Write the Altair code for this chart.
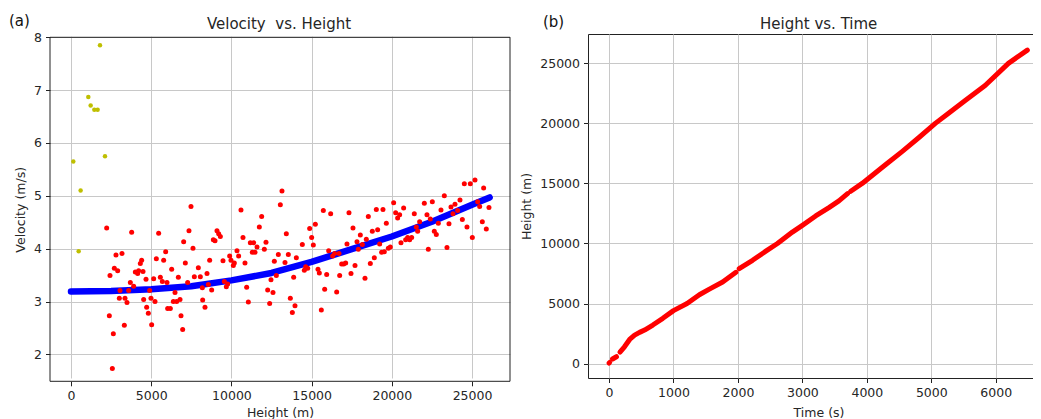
import altair as alt
import pandas as pd

FONT = "DejaVu Sans"
TXT = "#262626"
FRAME = "#222"

# ---------------- Panel (a): Velocity vs. Height ----------------
yellow_h = [145, 478, 600, 1080, 1226, 1455, 1660, 1808, 2120]
yellow_v = [5.65, 3.95, 5.10, 6.87, 6.71, 6.63, 6.63, 7.85, 5.75]

blue_h = [0, 2500, 5000, 7500, 10000, 12500, 15000, 17500, 20000, 22500, 25000, 26100]
blue_v = [3.19, 3.20, 3.23, 3.29, 3.40, 3.54, 3.75, 3.99, 4.23, 4.51, 4.83, 4.97]

red_pts = [
    (2224, 4.39), (2431, 3.49), (2390, 2.73), (2639, 2.39), (2577, 1.73), (2701, 3.63),
    (2805, 3.88), (2909, 3.58), (3055, 3.21), (3013, 3.06), (3179, 3.91), (3325, 2.55),
    (3366, 3.06), (3491, 2.98), (3595, 3.21), (3699, 3.36), (3782, 4.31), (3907, 3.29),
    (4011, 3.56), (4156, 3.53), (4218, 3.58), (4322, 3.72), (4405, 3.78), (4489, 3.57),
    (4530, 3.04), (4676, 3.42), (4717, 2.89), (4821, 2.78), (4904, 3.21), (4987, 3.06),
    (5029, 2.56), (5154, 3.43), (5237, 3.00), (5320, 3.81), (5465, 4.29), (5569, 3.46),
    (5694, 3.38), (5777, 3.78), (5902, 3.94), (5985, 3.36), (6026, 2.87), (6193, 2.87),
    (6276, 3.61), (6380, 3.00), (6484, 3.17), (6588, 3.00), (6692, 3.46), (6796, 3.04),
    (6858, 2.73), (6962, 2.47), (7024, 4.13), (7128, 3.73), (7273, 3.36), (7356, 4.34),
    (7481, 4.80), (7606, 4.01), (7689, 3.47), (7938, 3.64), (8063, 3.47), (8188, 3.26),
    (8209, 3.03), (8354, 2.89), (8479, 3.53), (8562, 3.32), (8645, 3.78), (8770, 3.22),
    (8874, 4.17), (8978, 4.15), (9102, 4.34), (9206, 4.28), (9310, 4.23), (9476, 3.77),
    (9559, 3.38), (9684, 3.28), (9767, 3.33), (9892, 3.86), (9975, 3.78), (10120, 3.68),
    (10182, 3.73), (10349, 3.96), (10452, 3.86), (10598, 4.73), (10723, 4.21), (10847, 3.73),
    (10952, 3.27), (11056, 2.99), (11180, 4.11), (11305, 3.93), (11388, 4.11), (11471, 3.93),
    (11596, 4.03), (11741, 4.41), (11887, 4.61), (12053, 3.99), (12157, 4.12), (12261, 3.22),
    (12386, 2.96), (12468, 3.41), (12593, 3.17), (12676, 3.76), (12801, 3.49), (12926, 3.89),
    (13050, 4.83), (13154, 5.09), (13341, 3.74), (13424, 4.28), (13549, 3.89), (13674, 3.06),
    (13799, 2.79), (13882, 3.46), (13965, 2.92), (14048, 3.83), (14422, 4.08), (14547, 3.59),
    (14630, 3.66), (14755, 3.63), (14879, 4.38), (15004, 4.21), (15108, 4.07), (15233, 4.46),
    (15399, 3.61), (15482, 3.54), (15607, 2.84), (15731, 4.72), (15815, 3.23), (15940, 3.51),
    (16065, 3.96), (16189, 4.66), (16314, 3.86), (16438, 3.91), (16563, 3.18), (16708, 3.91),
    (16750, 3.49), (16874, 3.71), (16999, 3.71), (17124, 3.73), (17206, 4.09), (17331, 4.68),
    (17456, 3.53), (17581, 4.39), (17706, 3.68), (17830, 4.13), (17913, 3.99), (18038, 4.26),
    (18162, 4.08), (18328, 3.44), (18411, 4.18), (18536, 4.61), (18661, 3.72), (18785, 4.33),
    (18910, 3.83), (19035, 4.74), (19118, 4.36), (19243, 4.09), (19367, 3.93), (19450, 4.74),
    (19533, 3.94), (19658, 4.48), (19783, 4.01), (19908, 4.03), (20115, 4.87), (20240, 4.68),
    (20364, 4.58), (20489, 4.64), (20572, 4.11), (20738, 4.77), (20863, 4.17), (20988, 4.21),
    (21113, 4.17), (21237, 4.21), (21403, 4.66), (21528, 4.41), (21611, 4.33), (21736, 4.51),
    (22027, 4.86), (22193, 4.64), (22276, 3.99), (22401, 4.56), (22526, 4.89), (22650, 4.33),
    (22775, 4.27), (22900, 4.48), (23066, 4.73), (23274, 5.00), (23440, 4.02), (23565, 4.47),
    (23690, 4.79), (23814, 4.66), (23939, 4.84), (24106, 4.72), (24251, 4.92), (24397, 4.55),
    (24521, 5.23), (24688, 4.41), (24895, 5.23), (25020, 4.21), (25186, 5.30), (25352, 4.89),
    (25477, 4.80), (25643, 4.51), (25726, 5.15), (25892, 4.37), (26058, 4.78),
]
red_h = [p[0] for p in red_pts]
red_v = [p[1] for p in red_pts]

# ---------------- Panel (b): Height vs. Time ----------------
seg_id = ([1] * 2 + [2] * 2 + [3] * 14 + [4] * 10 + [5] * 11)
time_s = [0, 10,
          55, 115,
          170, 240, 320, 397, 474, 552, 680, 835, 1000, 1211, 1402, 1557, 1763, 1969,
          2020, 2227, 2433, 2613, 2845, 3000, 3206, 3412, 3567, 3700,
          3750, 3928, 4289, 4546, 4804, 5062, 5268, 5526, 5835, 6196, 6490]
height_m = [40, 90,
            380, 570,
            950, 1400, 2010, 2370, 2600, 2790, 3210, 3770, 4410, 5000, 5730, 6200, 6790, 7600,
            7900, 8600, 9360, 10000, 10950, 11510, 12290, 12990, 13550, 14150,
            14350, 15000, 16550, 17650, 18800, 20000, 20850, 21900, 23150, 25000, 26100]

titles = ["Velocity\u00a0 vs. Height", "Height vs. Time"]
panel_tags = ["(a)", "(b)"]

df_y = pd.DataFrame({"x": yellow_h, "y": yellow_v})
df_b = pd.DataFrame({"x": blue_h, "y": blue_v})
df_r = pd.DataFrame({"x": red_h, "y": red_v})
df_t = pd.DataFrame({"x": time_s, "y": height_m, "seg": seg_id})

# panel (a) frame sits 3.3 px lower than panel (b)'s
LW, LH, LTOP = 460, 347.3, 3.3
RW, RH = 461, 344

axis_common = dict(
    labelFont=FONT, labelFontSize=12.5, labelColor=TXT,
    titleFont=FONT, titleFontSize=12.5, titleColor=TXT, titleFontWeight="normal",
    tickColor=FRAME, tickSize=4.5, tickWidth=1, labelPadding=4,
    grid=True, gridColor="#c8c8c8", gridWidth=1, domain=False, format="d",
)


def text_layer(txt, x, y, align, size=15, color=TXT):
    return alt.Chart(pd.DataFrame({"t": [txt]})).mark_text(
        align=align, baseline="alphabetic", font=FONT, fontSize=size, color=color
    ).encode(x=alt.value(x), y=alt.value(y), text="t:N")


def rect_layer(x, x2, y, y2, **kw):
    return alt.Chart(pd.DataFrame({"t": [0]})).mark_rect(**kw).encode(
        x=alt.value(x), x2=alt.value(x2), y=alt.value(y), y2=alt.value(y2))


LX = alt.X("x:Q", scale=alt.Scale(domain=[-1309, 27369], nice=False, zero=False),
           axis=alt.Axis(values=[0, 5000, 10000, 15000, 20000, 25000], title="Height (m)",
                         titleY=35.1, titleBaseline="alphabetic", **axis_common))
LY = alt.Y("y:Q", scale=alt.Scale(domain=[1.49, 8.0], nice=False, zero=False,
                                  range=[LH, LTOP]),
           axis=alt.Axis(values=[2, 3, 4, 5, 6, 7, 8], title="Velocity (m/s)",
                         titleX=-29.5, titleBaseline="middle", **axis_common))

cover = rect_layer(-0.5, LW + 0.5, 0, LTOP - 0.5, color="white")
blue = alt.Chart(df_b).mark_line(color="#0000ff", strokeWidth=6.5, strokeCap="round",
                                 strokeJoin="round").encode(x=LX, y=LY)
red = alt.Chart(df_r).mark_circle(color="#ff0000", opacity=1, size=25).encode(x=LX, y=LY)
yel = alt.Chart(df_y).mark_circle(color="#bfbf00", opacity=1, size=20).encode(x=LX, y=LY)
frame_a = rect_layer(0, LW, LTOP, LH, fill="white", fillOpacity=0, stroke=FRAME, strokeWidth=1)

left = alt.layer(
    blue, red, yel, cover, frame_a,
    text_layer(panel_tags[0], -41, -7.6, "left", color="#111"),
    text_layer(titles[0], 229, -4.7, "center"),
).properties(width=LW, height=LH, view=alt.ViewBackground(stroke="transparent"))

RX = alt.X("x:Q", scale=alt.Scale(domain=[-326, 6826], nice=False, zero=False),
           axis=alt.Axis(values=[0, 1000, 2000, 3000, 4000, 5000, 6000], title="Time (s)",
                         titleY=38.0, titleBaseline="alphabetic", **axis_common))
RY = alt.Y("y:Q", scale=alt.Scale(domain=[-1200, 27442], nice=False, zero=False),
           axis=alt.Axis(values=[0, 5000, 10000, 15000, 20000, 25000], title="Height (m)",
                         titleX=-62, titleBaseline="middle", **axis_common))

hline = alt.Chart(df_t).mark_line(color="#ff0000", strokeWidth=5, strokeCap="round",
                                  strokeJoin="round").encode(x=RX, y=RY, detail="seg:N")

right = alt.layer(
    hline,
    text_layer(panel_tags[1], -45, -7.5, "left", color="#111"),
    text_layer(titles[1], 230.7, -4.7, "center"),
).properties(width=RW, height=RH, view=alt.ViewBackground(stroke=FRAME, strokeWidth=1))

chart = alt.concat(left, right, columns=2, align="none", spacing=8).properties(
    padding={"left": 0, "top": 5, "right": -17, "bottom": 0}
).configure(background="white")

chart.save("out.html", embed_options={"renderer": "svg", "actions": False})
